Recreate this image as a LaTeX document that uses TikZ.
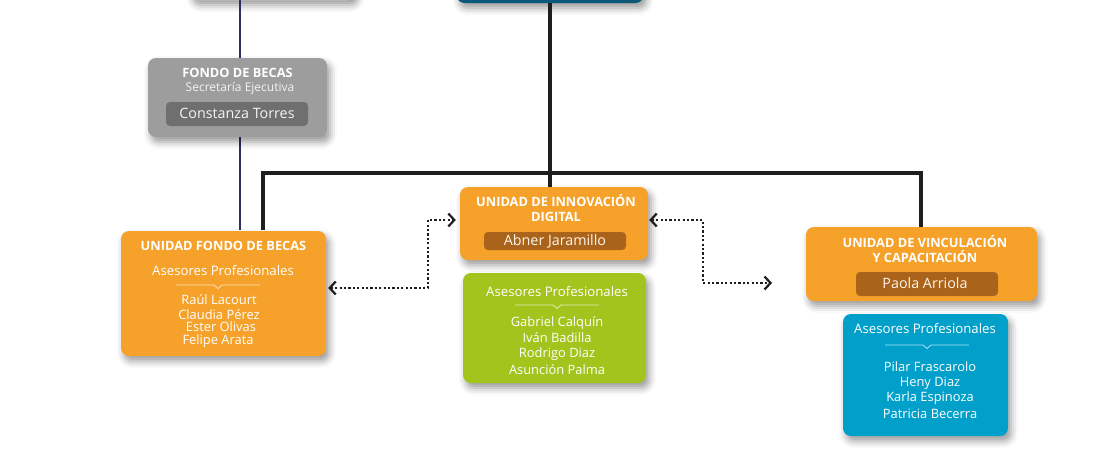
\documentclass[tikz,border=0pt]{standalone}
\usepackage{fontspec}
\setmainfont{Open Sans}
\usetikzlibrary{arrows.meta,shadows.blur}
\definecolor{cgray}{HTML}{9D9D9D}
\definecolor{cgrayin}{HTML}{6F6F6F}
\definecolor{corange}{HTML}{F5A12A}
\definecolor{cbrown}{HTML}{A9631A}
\definecolor{cgreen}{HTML}{A3C41C}
\definecolor{cblue}{HTML}{00A0CB}
\definecolor{cteal}{HTML}{0B5878}
\definecolor{cnavy}{HTML}{2B2E5E}
\definecolor{cline}{HTML}{1E1E1E}
\tikzset{
  box/.style={rounded corners=8pt, inner sep=0pt, draw=none,
    blur shadow={shadow xshift=3pt, shadow yshift=-5pt, shadow blur radius=7pt, shadow opacity=40}},
  inbox/.style={rounded corners=4pt, inner sep=0pt, draw=none},
  ttl/.style={font=\bfseries\fontsize{12.8}{15}\selectfont, text=white, align=center},
  sub/.style={font=\fontsize{13.2}{15}\selectfont, text=white},
  nm/.style={font=\fontsize{12.9}{14}\selectfont, text=white},
  sec/.style={font=\fontsize{12}{12}\selectfont, text=white!90!gray},
  inname/.style={font=\fontsize{14.3}{15}\selectfont, text=white!92!orange},
  sep/.style={white, opacity=0.7, line width=0.8pt},
  dots/.style={cline, line width=2.6pt, dash pattern=on 2.2pt off 2.2pt,
    {Straight Barb[length=6pt,width=13pt,line width=2.2pt]}-{Straight Barb[length=6pt,width=13pt,line width=2.2pt]}},
  solidl/.style={cline, line width=3.2pt},
  navyl/.style={cnavy, line width=2.2pt}
}
\newcommand{\sepline}[2]{\draw[sep] (#1-42,#2) -- (#1-4,#2) -- (#1,#2+3.5) -- (#1+4,#2) -- (#1+42,#2);}
\begin{document}
\begin{tikzpicture}[x=1pt,y=-1pt]
\useasboundingbox (0,0) rectangle (1100,450);
\coordinate (xfb) at (240,0);
\coordinate (xc) at (550,0);
\coordinate (bus) at (550,173);
\coordinate (dl) at (428,220);
\coordinate (dr) at (703,220);
\coordinate (dend) at (772,283);

% top partial boxes
\node[box, fill=white, minimum width=165pt, minimum height=40pt] (topL) at (272.5,-20) {};
\node[box, fill=cteal, minimum width=187pt, minimum height=43pt] (topR) at (550,-18.5) {};

% lines
\draw[navyl] (topL.south -| xfb) -- (240,230);
\draw[solidl] (topR.south -| xc) -- (550,187);
\draw[solidl] (263,230) |- (bus) -| (921,227);

% gray box
\node[box, fill=cgray, minimum width=179pt, minimum height=79pt] (fb) at (237.5,97.5) {};
\node[inbox, fill=cgrayin, minimum width=142pt, minimum height=24pt] (fbin) at (237,114) {};
\node[ttl] (fbt) at (237.5,73) {FONDO DE BECAS};
\node[sec] (fbs) at (240,88) {Secretaría Ejecutiva};
\node[inname, text=white!92!gray] (fbn) at (237,113) {Constanza Torres};

% unidad fondo de becas
\node[box, fill=corange, minimum width=205pt, minimum height=125pt] (ufb) at (223.5,293.5) {};
\node[ttl] (ufbt) at (223.5,246) {UNIDAD FONDO DE BECAS};
\node[sub] (ufbs) at (223,271) {Asesores Profesionales};
\sepline{218}{285}
\node[nm] (n1) at (219,300) {Raúl Lacourt};
\node[nm] (n2) at (219,315) {Claudia Pérez};
\node[nm] (n3) at (221,327) {Ester Olivas};
\node[nm] (n4) at (218,341) {Felipe Arata};

% unidad de innovacion digital
\node[box, fill=corange, minimum width=188pt, minimum height=73pt] (uid) at (554,223.5) {};
\node[ttl] (uidt) at (556,208.5) {UNIDAD DE INNOVACIÓN\\DIGITAL};
\node[inbox, fill=cbrown, minimum width=142pt, minimum height=18pt] (uidin) at (555,241) {};
\node[inname] (uidn) at (555,241) {Abner Jaramillo};

% green
\node[box, fill=cgreen, minimum width=183pt, minimum height=110pt] (gr) at (554.5,328) {};
\node[sub] (grs) at (557,292) {Asesores Profesionales};
\sepline{557}{305}
\node[nm] (g1) at (557,323) {Gabriel Calquín};
\node[nm] (g2) at (557,338) {Iván Badilla};
\node[nm] (g3) at (557,354) {Rodrigo Diaz};
\node[nm] (g4) at (557,370) {Asunción Palma};

% vinculacion
\node[box, fill=corange, minimum width=231pt, minimum height=74pt] (uvc) at (921.5,264) {};
\node[ttl] (uvct) at (925,249.5) {UNIDAD DE VINCULACIÓN\\Y CAPACITACIÓN};
\node[inbox, fill=cbrown, minimum width=142pt, minimum height=24pt] (uvcin) at (927,284) {};
\node[inname] (uvcn) at (925,283) {Paola Arriola};

% blue
\node[box, fill=cblue, minimum width=165pt, minimum height=122pt] (bl) at (925.5,375) {};
\node[sub] (bls) at (925,329) {Asesores Profesionales};
\sepline{927}{345}
\node[nm] (b1) at (930,367) {Pilar Frascarolo};
\node[nm] (b2) at (930,383) {Heny Diaz};
\node[nm] (b3) at (930,398) {Karla Espinoza};
\node[nm] (b4) at (930,414) {Patricia Becerra};

% dotted arrows
\draw[dots] ([xshift=2pt]ufb.east |- 0,288) -| (dl) -- ([xshift=-4pt]uid.west |- dl);
\draw[dots] ([xshift=1pt]uid.east |- dr) -- (dr) |- (dend);
\end{tikzpicture}
\end{document}
